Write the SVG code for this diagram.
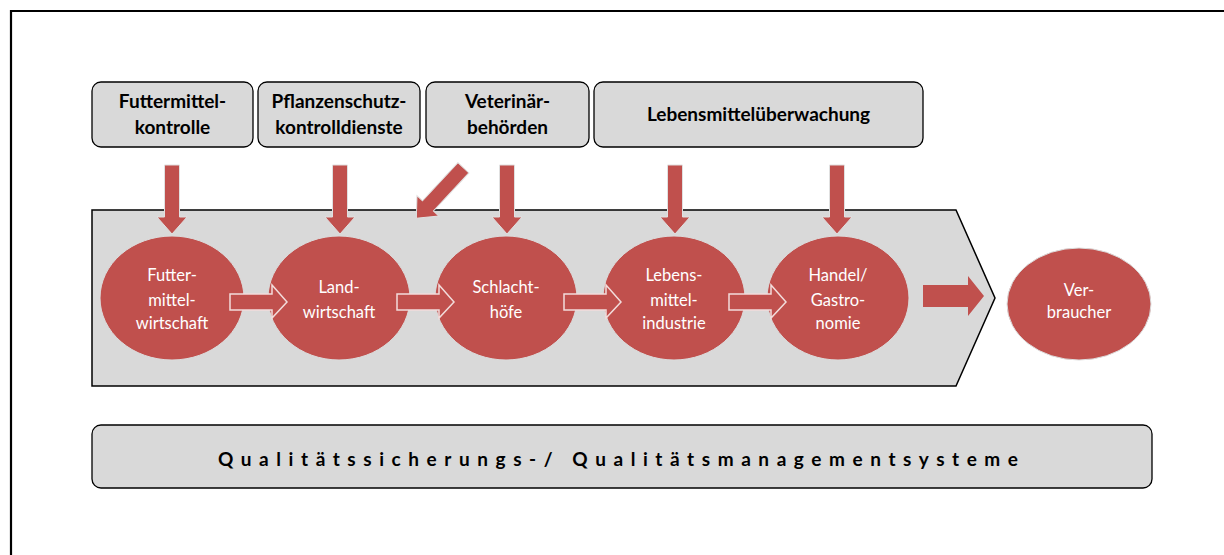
<svg xmlns="http://www.w3.org/2000/svg" width="1224" height="555" viewBox="0 0 1224 555">
  <defs>
    <style>
      .box { fill: #d9d9d9; stroke: #000; stroke-width: 1.3; }
      .boxtxt { font-family: Lato, "Liberation Sans", sans-serif; font-weight: bold; font-size: 19px; fill: #000; text-anchor: middle; }
      .stage { fill: #c0504d; stroke: #dcdcdc; stroke-width: 1; }
      .stagetxt { font-family: Lato, "Liberation Sans", sans-serif; font-size: 16.5px; fill: #fff; text-anchor: middle; }
      .down { fill: #c0504d; stroke: #e0e0e0; stroke-width: 1; }
      .step { fill: #c0504d; stroke: #f2dcdb; stroke-width: 1.5; }
    </style>
    <!-- block arrow pointing down, tip at (0,69) -->
    <path id="downArrow" d="M-7.5,0 H7.5 V52 H15 L0,69 L-15,52 H-7.5 Z"/>
    <!-- block arrow pointing right, tail at x=0, tip at x=57 -->
    <path id="stepArrow" d="M0,-8 H42 V-17 L57,0 L42,16 V8 H0 Z"/>
  </defs>

  <!-- outer frame -->
  <path d="M11,555 V11 H1224" fill="none" stroke="#000" stroke-width="2.2"/>

  <!-- process chevron -->
  <g id="chain">
    <polygon points="92,210 956,210 995,298 956,386 92,386" fill="#d9d9d9" stroke="#000" stroke-width="1.5"/>
  </g>

  <!-- authority boxes -->
  <g id="futtermittelkontrolle">
    <rect class="box" x="92" y="82" width="161" height="65" rx="9"/>
    <text class="boxtxt" x="172.5" y="108">Futtermittel-</text>
    <text class="boxtxt" x="172.5" y="134">kontrolle</text>
  </g>
  <g id="pflanzenschutz">
    <rect class="box" x="258" y="82" width="162" height="65" rx="9"/>
    <text class="boxtxt" x="339" y="108">Pflanzenschutz-</text>
    <text class="boxtxt" x="339" y="134">kontrolldienste</text>
  </g>
  <g id="veterinaer">
    <rect class="box" x="426" y="82" width="163" height="65" rx="9"/>
    <text class="boxtxt" x="507.5" y="108">Veterinär-</text>
    <text class="boxtxt" x="507.5" y="134">behörden</text>
  </g>
  <g id="lebensmittelueberwachung">
    <rect class="box" x="594" y="82" width="329" height="65" rx="9"/>
    <text class="boxtxt" x="758.5" y="121">Lebensmittelüberwachung</text>
  </g>

  <!-- stages of the food chain -->
  <g id="futtermittelwirtschaft">
    <ellipse class="stage" cx="172" cy="298" rx="72" ry="62"/>
    <text class="stagetxt" x="172" y="281">Futter-</text>
    <text class="stagetxt" x="172" y="306">mittel-</text>
    <text class="stagetxt" x="172" y="329">wirtschaft</text>
  </g>
  <g id="landwirtschaft">
    <ellipse class="stage" cx="339" cy="298" rx="71" ry="62"/>
    <text class="stagetxt" x="339" y="293">Land-</text>
    <text class="stagetxt" x="339" y="318">wirtschaft</text>
  </g>
  <g id="schlachthoefe">
    <ellipse class="stage" cx="506" cy="298" rx="71" ry="62"/>
    <text class="stagetxt" x="506" y="293">Schlacht-</text>
    <text class="stagetxt" x="506" y="318">höfe</text>
  </g>
  <g id="lebensmittelindustrie">
    <ellipse class="stage" cx="674" cy="298" rx="71" ry="62"/>
    <text class="stagetxt" x="674" y="281">Lebens-</text>
    <text class="stagetxt" x="674" y="306">mittel-</text>
    <text class="stagetxt" x="674" y="329">industrie</text>
  </g>
  <g id="handel">
    <ellipse class="stage" cx="838" cy="298" rx="71" ry="62"/>
    <text class="stagetxt" x="838" y="281">Handel/</text>
    <text class="stagetxt" x="838" y="306">Gastro-</text>
    <text class="stagetxt" x="838" y="329">nomie</text>
  </g>
  <g id="verbraucher">
    <ellipse class="stage" cx="1079" cy="304" rx="72" ry="56"/>
    <text class="stagetxt" x="1079" y="296" font-size="15.5">Ver-</text>
    <text class="stagetxt" x="1079" y="318" font-size="15.5">braucher</text>
  </g>

  <!-- quality systems bar -->
  <g id="qualitaetssysteme">
    <rect class="box" x="92" y="425" width="1060" height="63" rx="9"/>
    <text x="618" y="466" textLength="800" lengthAdjust="spacing" font-family="Lato, 'Liberation Sans', sans-serif" font-weight="bold" font-size="19" fill="#000" text-anchor="middle">Qualitätssicherungs-/ Qualitätsmanagementsysteme</text>
  </g>

  <!-- connectors -->
  <g id="connectors">
    <use href="#downArrow" class="down" x="172" y="165"/>
    <use href="#downArrow" class="down" x="340" y="165"/>
    <use href="#downArrow" class="down" x="507" y="165"/>
    <use href="#downArrow" class="down" x="675" y="165"/>
    <use href="#downArrow" class="down" x="837" y="165"/>
    <use href="#downArrow" class="down" transform="translate(460,171.5) rotate(43) translate(0,-5)"/>
    <use href="#stepArrow" class="step" x="230" y="302"/>
    <use href="#stepArrow" class="step" x="397" y="302"/>
    <use href="#stepArrow" class="step" x="564" y="302"/>
    <use href="#stepArrow" class="step" x="729" y="302"/>
    <path d="M923,285 H968 V276 L984,296 L968,316 V307 H923 Z" fill="#c0504d"/>
  </g>
</svg>
